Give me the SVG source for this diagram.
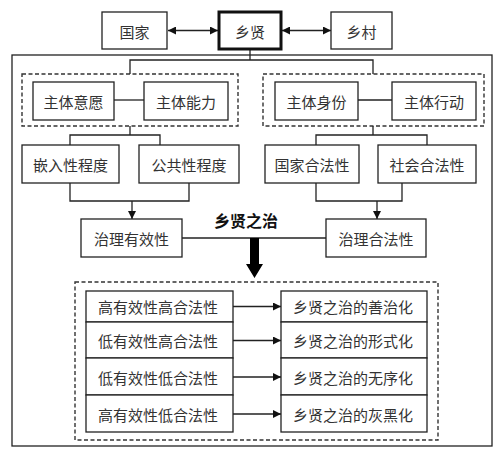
<svg xmlns="http://www.w3.org/2000/svg" width="500" height="460" viewBox="0 0 500 460">
<defs>
<style>
.b{fill:#fff;stroke:#222;stroke-width:1.3}
.d{fill:none;stroke:#333;stroke-width:1.4;stroke-dasharray:4 2.5}
.l{fill:none;stroke:#222;stroke-width:1.3}
.t{font-family:"Noto Sans CJK SC","Liberation Sans",sans-serif;font-size:15px;fill:#333;text-anchor:middle;dominant-baseline:central}
</style>
<marker id="ah" viewBox="0 0 10 10" refX="10" refY="5" markerWidth="8" markerHeight="8" markerUnits="userSpaceOnUse" orient="auto-start-reverse">
<path d="M0,0L10,5L0,10z" fill="#111"/>
</marker>
</defs>
<rect width="500" height="460" fill="#fff"/>
<rect x="12" y="55" width="480" height="391" class="b"/>
<rect x="22" y="74" width="216" height="52" class="d"/>
<rect x="263" y="74" width="221" height="52" class="d"/>
<rect x="75" y="282" width="363" height="158" class="d"/>
<g id="connectors">
<line x1="168" y1="30.5" x2="218" y2="30.5" class="l" marker-start="url(#ah)" marker-end="url(#ah)"/>
<line x1="282" y1="30.5" x2="331" y2="30.5" class="l" marker-start="url(#ah)" marker-end="url(#ah)"/>
<path d="M250,50V60M130,74V60H373V74" class="l"/>
<line x1="114" y1="100" x2="144" y2="100" class="l"/>
<line x1="358" y1="100" x2="392" y2="100" class="l"/>
<path d="M130,126V135M70,145V135H160V145" class="l"/>
<path d="M373,126V135M316,145V135H427V145" class="l"/>
<path d="M70,183V201H189V183" class="l"/>
<line x1="132" y1="201" x2="132" y2="219" class="l" marker-end="url(#ah)"/>
<path d="M316,183V201H402V183" class="l"/>
<line x1="377" y1="201" x2="377" y2="219" class="l" marker-end="url(#ah)"/>
<line x1="182" y1="238" x2="326" y2="238" class="l"/>
<path d="M250,238H259V264H263L254.5,278L246,264H250Z" fill="#000"/>
<line x1="233" y1="306.5" x2="281" y2="306.5" class="l" marker-end="url(#ah)"/>
<line x1="233" y1="340.5" x2="281" y2="340.5" class="l" marker-end="url(#ah)"/>
<line x1="233" y1="377" x2="281" y2="377" class="l" marker-end="url(#ah)"/>
<line x1="233" y1="414" x2="281" y2="414" class="l" marker-end="url(#ah)"/>
</g>
<g id="guojia"><rect x="102" y="12" width="65" height="37" class="b"/><text x="134.5" y="31" class="t">国家</text></g>
<g id="xiangxian"><rect x="219" y="12" width="62" height="37" fill="#fff" stroke="#111" stroke-width="3"/><text x="250" y="31" class="t">乡贤</text></g>
<g id="xiangcun"><rect x="331" y="12" width="61" height="37" class="b"/><text x="361.5" y="31" class="t">乡村</text></g>
<g id="zhutiyiyuan"><rect x="33" y="82" width="81" height="38" class="b"/><text x="73.5" y="101" class="t">主体意愿</text></g>
<g id="zhutinengli"><rect x="144" y="82" width="84" height="38" class="b"/><text x="186" y="101" class="t">主体能力</text></g>
<g id="zhutishenfen"><rect x="275" y="82" width="83" height="38" class="b"/><text x="316.5" y="101" class="t">主体身份</text></g>
<g id="zhutixingdong"><rect x="392" y="82" width="84" height="38" class="b"/><text x="434" y="101" class="t">主体行动</text></g>
<g id="qianru"><rect x="22" y="145" width="97" height="38" class="b"/><text x="70.5" y="164" class="t">嵌入性程度</text></g>
<g id="gonggong"><rect x="139" y="145" width="100" height="38" class="b"/><text x="189" y="164" class="t">公共性程度</text></g>
<g id="guojiahefa"><rect x="265" y="145" width="94" height="38" class="b"/><text x="312" y="164" class="t">国家合法性</text></g>
<g id="shehuihefa"><rect x="378" y="145" width="98" height="38" class="b"/><text x="427" y="164" class="t">社会合法性</text></g>
<g id="youxiao"><rect x="81" y="219" width="101" height="38" class="b"/><text x="131.5" y="238" class="t">治理有效性</text></g>
<g id="hefa"><rect x="326" y="219" width="100" height="38" class="b"/><text x="376" y="238" class="t">治理合法性</text></g>
<text x="246" y="220" class="t" style="font-weight:bold;fill:#111;font-size:16px">乡贤之治</text>
<g id="left-rows">
<rect x="86" y="291" width="147" height="31" class="b"/><text x="158" y="306.5" class="t">高有效性高合法性</text>
<rect x="86" y="322" width="147" height="36" class="b"/><text x="158" y="340.5" class="t">低有效性高合法性</text>
<rect x="86" y="358" width="147" height="37" class="b"/><text x="158" y="377" class="t">低有效性低合法性</text>
<rect x="86" y="395" width="147" height="37" class="b"/><text x="158" y="414" class="t">高有效性低合法性</text>
</g>
<g id="right-rows">
<rect x="281" y="291" width="146" height="31" class="b"/><text x="353" y="306.5" class="t">乡贤之治的善治化</text>
<rect x="281" y="322" width="146" height="36" class="b"/><text x="353" y="340.5" class="t">乡贤之治的形式化</text>
<rect x="281" y="358" width="146" height="37" class="b"/><text x="353" y="377" class="t">乡贤之治的无序化</text>
<rect x="281" y="395" width="146" height="37" class="b"/><text x="353" y="414" class="t">乡贤之治的灰黑化</text>
</g>
</svg>
